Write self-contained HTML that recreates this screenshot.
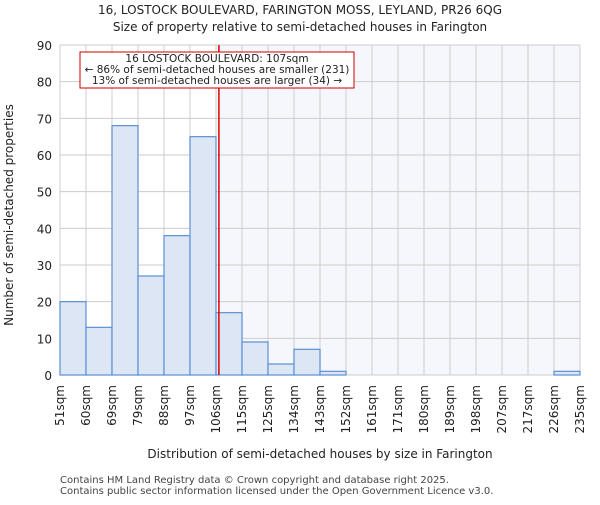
<!DOCTYPE html>
<html><head><meta charset="utf-8"><style>
body{margin:0;background:#fff;font-family:"Liberation Sans","DejaVu Sans",sans-serif}
</style></head><body>
<svg id="chart" width="600" height="500" xmlns="http://www.w3.org/2000/svg" font-family="DejaVu Sans, Liberation Sans, sans-serif">
<text x="300" y="14" text-anchor="middle" font-size="12" fill="#222">16, LOSTOCK BOULEVARD, FARINGTON MOSS, LEYLAND, PR26 6QG</text>
<text x="300" y="31" text-anchor="middle" font-size="12" fill="#222">Size of property relative to semi-detached houses in Farington</text>
<g id="plot"></g>
<text x="320" y="458" text-anchor="middle" font-size="12" fill="#222">Distribution of semi-detached houses by size in Farington</text>
<text transform="translate(13,215) rotate(-90)" text-anchor="middle" font-size="12" fill="#222">Number of semi-detached properties</text>
<text x="60" y="483" font-size="10" fill="#444">Contains HM Land Registry data © Crown copyright and database right 2025.</text>
<text x="60" y="494" font-size="10" fill="#444">Contains public sector information licensed under the Open Government Licence v3.0.</text>
</svg>
<script>
const categories=["51sqm","60sqm","69sqm","79sqm","88sqm","97sqm","106sqm","115sqm","125sqm","134sqm","143sqm","152sqm","161sqm","171sqm","180sqm","189sqm","198sqm","207sqm","217sqm","226sqm","235sqm"];
const counts=[20,13,68,27,38,65,17,9,3,7,1,0,0,0,0,0,0,0,0,1];
const yTicks=[0,10,20,30,40,50,60,70,80,90];
const binStarts=[51,60,69,79,88,97,106,115,125,134,143,152,161,171,180,189,198,207,217,226,235];
const propertySize=107;
const NS="http://www.w3.org/2000/svg";
const g=document.getElementById("plot");
const L=60,R=580,T=45,B=375,yMax=90;
const bw=(R-L)/counts.length;
const y=v=>B-(v/yMax)*(B-T);
const xIdx=i=>L+i*bw;
function xVal(v){let i=0;while(i<binStarts.length-2&&v>binStarts[i+1])i++;return xIdx(i)+(v-binStarts[i])/(binStarts[i+1]-binStarts[i])*bw;}
function mk(t,a){const e=document.createElementNS(NS,t);for(const k in a)e.setAttribute(k,a[k]);g.appendChild(e);return e;}
const px=xVal(propertySize);
let e=mk("rect",{x:px,y:T,width:R-px,height:B-T,fill:"#f5f7fd"});


for(let i=0;i<=counts.length;i++){e=mk("line",{x1:xIdx(i),x2:xIdx(i),y1:T,y2:B,stroke:"#ccc","stroke-width":1});

}
yTicks.forEach(t=>{e=mk("line",{x1:L,x2:R,y1:y(t),y2:y(t),stroke:"#ccc","stroke-width":1});


e=mk("text",{x:L-8,y:y(t)+5,"text-anchor":"end","font-size":12,fill:"#222"});e.textContent=t;

});
counts.forEach((c,i)=>{if(c<=0)return;e=mk("rect",{x:xIdx(i),y:y(c),width:bw,height:B-y(c),fill:"#dce6f4",stroke:"#5b8fd4","stroke-width":1.2});

});
categories.forEach((c,i)=>{const x=xIdx(i);e=mk("text",{transform:`translate(${x+4},385) rotate(-90)`,"text-anchor":"end","font-size":12,fill:"#222"});e.textContent=c;

});
e=mk("line",{x1:px,x2:px,y1:T,y2:B,stroke:"#d00","stroke-width":1.5});


e=mk("rect",{x:80,y:52,width:274,height:36,fill:"#fff",stroke:"#c00","stroke-width":1});


["16 LOSTOCK BOULEVARD: 107sqm","← 86% of semi-detached houses are smaller (231)","13% of semi-detached houses are larger (34) →"].forEach((s,i)=>{e=mk("text",{x:217,y:62+i*11,"text-anchor":"middle","font-size":10.5,fill:"#222"});e.textContent=s;

});
</script>
</body></html>
